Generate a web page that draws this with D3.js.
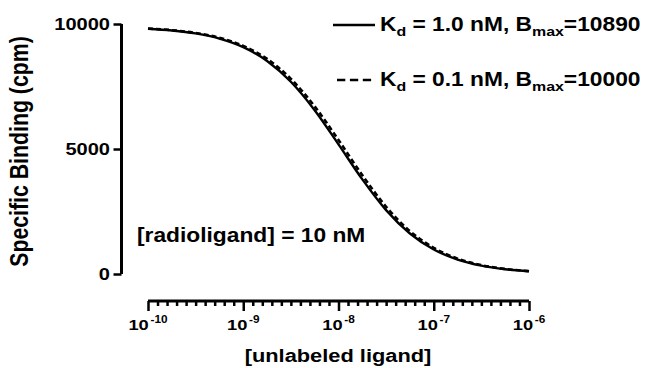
<!DOCTYPE html>
<html>
<head>
<meta charset="utf-8">
<script src="https://cdn.jsdelivr.net/npm/d3@7"></script>
<style>
  html, body { margin: 0; padding: 0; background: #fff; }
  svg { display: block; }
  text { font-family: "Liberation Sans", Arial, sans-serif; font-weight: bold; fill: #000; }
</style>
</head>
<body>
<svg id="chart" width="652" height="368"></svg>
<script>
// ---- data ----
const concentrations = [1e-10, 1.78e-10, 3.16e-10, 5.62e-10, 1e-9, 1.78e-9, 3.16e-9, 5.62e-9,
  1e-8, 1.78e-8, 3.16e-8, 5.62e-8, 1e-7, 1.78e-7, 3.16e-7, 5.62e-7, 1e-6];
const bindingKd1 = [9811, 9742, 9623, 9418, 9075, 8522, 7689, 6551, 5186, 3784, 2555, 1620, 981, 577, 333, 190, 108];
const bindingKd01 = [9817, 9753, 9642, 9450, 9127, 8604, 7808, 6705, 5360, 3949, 2690, 1717, 1045, 616, 356, 204, 115];
const seriesNames = [
  { main: "K", sub: "d", rest: " = 1.0 nM, B", sub2: "max", tail: "=10890" },
  { main: "K", sub: "d", rest: " = 0.1 nM, B", sub2: "max", tail: "=10000" }
];
const xMajorTicks = [1e-10, 1e-9, 1e-8, 1e-7, 1e-6];
const xTickExponents = ["-10", "-9", "-8", "-7", "-6"];
const yTicks = [0, 5000, 10000];
const yTickLabels = ["0", "5000", "10000"];
const xTitle = "[unlabeled ligand]";
const yTitle = "Specific Binding (cpm)";
const annotation = "[radioligand] = 10 nM";

// ---- layout ----
const svg = d3.select("#chart");
const x = d3.scaleLog().domain([1e-10, 1e-6]).range([148, 529]);
const y = d3.scaleLinear().domain([0, 10000]).range([274, 24]);
const SX = 1.18; // horizontal stretch of the reference lettering

// minor ticks every 0.1 decade (Prism style)
const minorTicks = [];
for (let e = -10; e < -6; e++) for (let k = 1; k < 10; k++) minorTicks.push(Math.pow(10, e + k / 10));

// Y axis
const yAxis = svg.append("g").attr("transform", "translate(121.5,0)")
  .call(d3.axisLeft(y).tickValues(yTicks).tickSize(8).tickFormat(""));
yAxis.select(".domain").attr("d", `M0,${y(10000)}V${y(0)}`).attr("stroke", "#000").attr("stroke-width", 3).attr("fill", "none");
yAxis.selectAll(".tick line").attr("stroke", "#000").attr("stroke-width", 2.5);
yTicks.forEach((v, i) => {
  svg.append("text").attr("transform", `translate(110,${y(v) + 6}) scale(${SX},1)`)
    .attr("text-anchor", "end").style("font-size", "17px").text(yTickLabels[i]);
});

// X axis
const xAxisY = 301;
const gxMinor = svg.append("g").attr("transform", `translate(0,${xAxisY})`)
  .call(d3.axisBottom(x).tickValues(minorTicks).tickSize(5).tickFormat(""));
gxMinor.select(".domain").remove();
gxMinor.selectAll(".tick line").attr("stroke", "#000").attr("stroke-width", 2.5);
const gxMajor = svg.append("g").attr("transform", `translate(0,${xAxisY})`)
  .call(d3.axisBottom(x).tickValues(xMajorTicks).tickSize(10).tickFormat(""));
gxMajor.select(".domain").attr("d", `M${x(1e-10)},0H${x(1e-6)}`).attr("stroke", "#000").attr("stroke-width", 3).attr("fill", "none");
gxMajor.selectAll(".tick line").attr("stroke", "#000").attr("stroke-width", 2.5);

// X tick labels 10^n
xMajorTicks.forEach((v, i) => {
  const t = svg.append("text").attr("transform", `translate(${x(v)},330) scale(${SX},1)`)
    .attr("text-anchor", "middle").style("font-size", "15.5px");
  t.append("tspan").text("10");
  t.append("tspan").attr("dx", 1.5).attr("dy", -7).style("font-size", "10px").text(xTickExponents[i]);
});

// titles
svg.append("text").attr("transform", `translate(338,362) scale(${SX},1)`).attr("text-anchor", "middle")
  .style("font-size", "18.5px").text(xTitle);
svg.append("text").attr("transform", `translate(28,151.5) scale(${SX},1) rotate(-90)`).attr("text-anchor", "middle")
  .style("font-size", "21.3px").text(yTitle);
svg.append("text").attr("transform", `translate(137,242) scale(${SX},1)`)
  .style("font-size", "19.3px").text(annotation);

// curves
const line = d3.line().x(d => x(d[0])).y(d => y(d[1])).curve(d3.curveMonotoneX);
svg.append("path").datum(concentrations.map((c, i) => [c, bindingKd01[i]]))
  .attr("d", line).attr("fill", "none").attr("stroke", "#000").attr("stroke-width", 2.6).attr("stroke-dasharray", "5,3");
svg.append("path").datum(concentrations.map((c, i) => [c, bindingKd1[i]]))
  .attr("d", line).attr("fill", "none").attr("stroke", "#000").attr("stroke-width", 2.4);

// legend
const legendRows = [25, 80];
legendRows.forEach((ly, i) => {
  const l = svg.append("line").attr("x1", i === 1 ? 337 : 333).attr("x2", 375).attr("y1", ly).attr("y2", ly)
    .attr("stroke", "#000").attr("stroke-width", 2.5);
  if (i === 1) l.attr("stroke-dasharray", "8.3,4.6");
  const n = seriesNames[i];
  const t = svg.append("text").attr("transform", `translate(380,${ly + 6}) scale(${SX},1)`).style("font-size", "19.3px");
  t.append("tspan").text(n.main);
  t.append("tspan").attr("dy", 5).style("font-size", "13.5px").text(n.sub);
  t.append("tspan").attr("dy", -5).text(n.rest);
  t.append("tspan").attr("dy", 5).style("font-size", "13.5px").text(n.sub2);
  t.append("tspan").attr("dy", -5).text(n.tail);
});
</script>
</body>
</html>
